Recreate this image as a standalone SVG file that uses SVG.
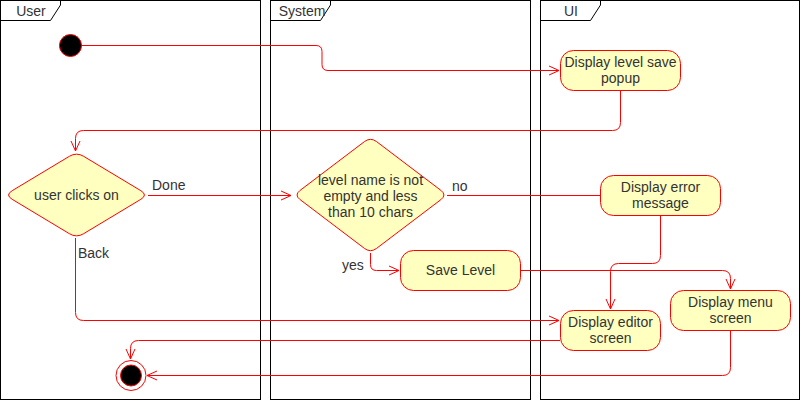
<svg xmlns="http://www.w3.org/2000/svg" width="801" height="402" viewBox="0 0 801 402">
<defs>
<style>
.lane{fill:#ffffff;stroke:#000000;stroke-width:1}
.tab{fill:none;stroke:#000000;stroke-width:1}
.lbl{font-family:"Liberation Sans",Arial,sans-serif;font-size:14px;fill:#333333}
.c{text-anchor:middle}
.act{fill:#ffffc0;stroke:#ff0000;stroke-width:1}
.edge{fill:none;stroke:#ff0000;stroke-width:1}
</style>
<marker id="arr" viewBox="0 0 12 12" refX="11" refY="6" markerWidth="12" markerHeight="12" markerUnits="userSpaceOnUse" orient="auto">
<path d="M1,1.5 L11,6 L1,10.5" fill="none" stroke="#ff0000" stroke-width="1"/>
</marker>
</defs>
<g id="lane-user">
<rect class="lane" x="0.5" y="0.5" width="260" height="399"/>
<path class="tab" d="M0.5,20.5 L50.5,20.5 L60.5,5 L60.5,0.5"/>
<text class="lbl c" x="31" y="16">User</text>
</g>
<g id="lane-system">
<rect class="lane" x="270.5" y="0.5" width="260" height="399"/>
<path class="tab" d="M270.5,20.5 L320.5,20.5 L330.5,5 L330.5,0.5"/>
<text class="lbl c" x="302" y="16">System</text>
</g>
<g id="lane-ui">
<rect class="lane" x="540.5" y="0.5" width="259" height="399"/>
<path class="tab" d="M540.5,20.5 L590.5,20.5 L600.5,5 L600.5,0.5"/>
<text class="lbl c" x="571" y="16">UI</text>
</g>
<g id="connectors">
<path class="edge" marker-end="url(#arr)" d="M81,45.5 L316,45.5 Q322,45.5 322,51.5 L322,64.5 Q322,70.5 328,70.5 L559,70.5"/>
<path class="edge" marker-end="url(#arr)" d="M620.5,90 L620.5,122.5 Q620.5,130.5 612.5,130.5 L83.5,130.5 Q75.5,130.5 75.5,138.5 L75.5,151"/>
<path class="edge" marker-end="url(#arr)" d="M148,195.5 L291,195.5"/>
<text class="lbl" x="152" y="190">Done</text>
<path class="edge" marker-end="url(#arr)" d="M75.5,238 L75.5,312.5 Q75.5,320.5 83.5,320.5 L559,320.5"/>
<text class="lbl" x="78" y="258">Back</text>
<path class="edge" d="M447,195.5 L600,195.5"/>
<text class="lbl" x="452" y="191">no</text>
<path class="edge" marker-end="url(#arr)" d="M370.5,253 L370.5,264.5 Q370.5,270.5 376.5,270.5 L399,270.5"/>
<text class="lbl" x="342" y="270">yes</text>
<path class="edge" marker-end="url(#arr)" d="M520,270.5 L722.5,270.5 Q730.5,270.5 730.5,278.5 L730.5,289"/>
<path class="edge" marker-end="url(#arr)" d="M660.5,215 L660.5,255.5 Q660.5,263.5 652.5,263.5 L618.5,263.5 Q610.5,263.5 610.5,271.5 L610.5,309"/>
<path class="edge" marker-end="url(#arr)" d="M560,340.5 L138.5,340.5 Q130.5,340.5 130.5,348.5 L130.5,359"/>
<path class="edge" marker-end="url(#arr)" d="M730.5,330 L730.5,367.5 Q730.5,375.5 722.5,375.5 L147,375.5"/>
</g>
<g id="start">
<circle cx="70.5" cy="45.5" r="11" fill="#000000" stroke="#ff0000" stroke-width="1"/>
</g>
<g id="display-popup">
<rect class="act" x="560.5" y="50.5" width="120" height="40" rx="13" ry="13"/>
<text class="lbl c" x="620.5" y="67">Display level save</text>
<text class="lbl c" x="620.5" y="83">popup</text>
</g>
<g id="user-clicks">
<path class="act" d="M12.15,190.7 L69.35,156.3 Q76.5,152 83.65,156.3 L140.85,190.7 Q148,195 140.85,199.3 L83.65,233.7 Q76.5,238 69.35,233.7 L12.15,199.3 Q5,195 12.15,190.7 Z"/>
<text class="lbl c" x="76.5" y="200">user clicks on</text>
</g>
<g id="name-check">
<path class="act" d="M300.12,190.36 L364.38,141.64 Q370.5,137 376.62,141.64 L440.88,190.36 Q447,195 440.88,199.64 L376.62,248.36 Q370.5,253 364.38,248.36 L300.12,199.64 Q294,195 300.12,190.36 Z"/>
<text class="lbl c" x="370.5" y="185">level name is not</text>
<text class="lbl c" x="370.5" y="201">empty and less</text>
<text class="lbl c" x="370.5" y="217">than 10 chars</text>
</g>
<g id="save-level">
<rect class="act" x="400.5" y="250.5" width="120" height="40" rx="13" ry="13"/>
<text class="lbl c" x="460.5" y="275">Save Level</text>
</g>
<g id="display-error">
<rect class="act" x="600.5" y="175.5" width="120" height="40" rx="13" ry="13"/>
<text class="lbl c" x="660.5" y="192">Display error</text>
<text class="lbl c" x="660.5" y="208">message</text>
</g>
<g id="display-editor">
<rect class="act" x="560.5" y="310.5" width="100" height="40" rx="13" ry="13"/>
<text class="lbl c" x="610.5" y="327">Display editor</text>
<text class="lbl c" x="610.5" y="343">screen</text>
</g>
<g id="display-menu">
<rect class="act" x="670.5" y="290.5" width="120" height="40" rx="13" ry="13"/>
<text class="lbl c" x="730.5" y="307">Display menu</text>
<text class="lbl c" x="730.5" y="323">screen</text>
</g>
<g id="end">
<circle cx="131" cy="375.5" r="15" fill="#ffffff" stroke="#ff0000" stroke-width="1"/>
<circle cx="131" cy="375.5" r="10.5" fill="#000000" stroke="#ff0000" stroke-width="1"/>
</g>
</svg>
